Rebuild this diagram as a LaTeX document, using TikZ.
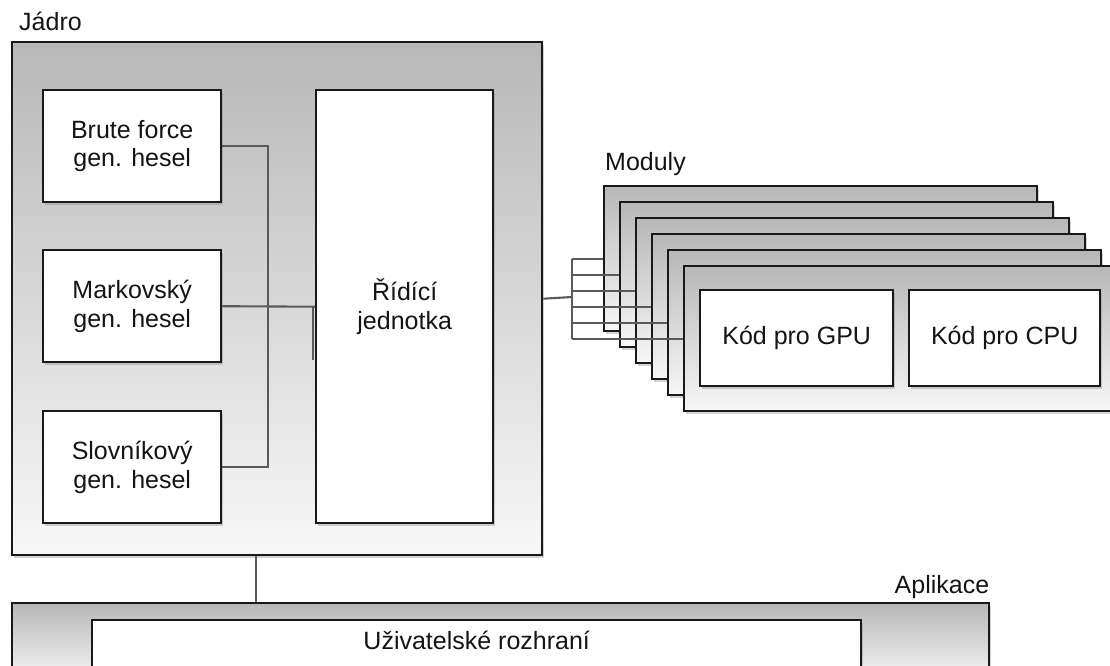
\documentclass[tikz,border=0pt]{standalone}
\usepackage{fontspec}
\setmainfont{Liberation Sans}
\usetikzlibrary{shadows}

\tikzset{
  box/.style={draw=black!90, line width=2.4pt, fill=white, inner sep=0pt, anchor=north west,
    drop shadow={shadow xshift=2pt, shadow yshift=-2.5pt, fill=black!50, opacity=0.35}},
  panel/.style={box, top color=black!28, bottom color=black!3},
  spoj/.style={draw=black!65, line width=2.1pt},
  popis/.style={font=\fontsize{25}{28.5}\selectfont, text=black!92}
}

\begin{document}
\begin{tikzpicture}[x=1pt, y=-1pt, popis]
    \useasboundingbox (0,0) rectangle (1110,666);
    \clip (0,0) rectangle (1110,666);

    % Jadro
    \node[panel, minimum width=530, minimum height=513] (jadro) at (11,41) {};
    \node[anchor=base west, inner sep=0pt] (jadroPopis) at ([shift={(8,-10)}]jadro.north west) {Jádro};

    % generatory hesel a ridici jednotka
    \node[box, minimum width=178, minimum height=112, align=center] (brute) at (42,89) {Brute force\\gen. hesel};
    \node[box, minimum width=178, minimum height=112, align=center] (markov) at (42,249) {Markovský\\gen. hesel};
    \node[box, minimum width=178, minimum height=112, align=center] (slovnik) at (42,410) {Slovníkový\\gen. hesel};
    \node[box, minimum width=177, minimum height=433, align=center] (ridici) at (315,89) {Řídící\\jednotka};

    \coordinate (uzel) at (268,305);
    \draw[spoj] (brute.east) -| (uzel) |- (slovnik.east);
    \draw[spoj] (markov.east) -- (ridici.west);
    \draw[spoj] ([xshift=-2pt]ridici.west) -- ++(0,53);

    % Moduly (naskladane za sebou)
    \foreach \i in {0,...,5}
        \node[panel, minimum width=433, minimum height=145] (mod\i) at ({603+16*\i},{185+16*\i}) {};
    \node[anchor=base west, inner sep=0pt] (moduly) at ([shift={(2,-15)}]mod0.north west) {Moduly};
    \node[box, minimum width=193, minimum height=96] (gpu) at (699,289) {Kód pro GPU};
    \node[box, minimum width=191, minimum height=96] (cpu) at (908,289) {Kód pro CPU};

    % sbernice mezi jadrem a moduly
    \coordinate (sbernice) at (572,297);
    \draw[spoj] (jadro.east) -- (sbernice);
    \draw[spoj] (sbernice |- mod0.west) -- (sbernice |- mod5.west);
    \foreach \i in {0,...,5}
        \draw[spoj] (sbernice |- mod\i.west) -- (mod\i.west);

    % Aplikace
    \node[panel, minimum width=977, minimum height=80] (aplikace) at (11,602) {};
    \node[anchor=base east, inner sep=0pt] (aplikacePopis) at ([shift={(-1,-9)}]aplikace.north east) {Aplikace};
    \node[box, minimum width=769, minimum height=70] (rozhrani) at (91,619) {};
    \node[anchor=base, inner sep=0pt] (rozhraniText) at ([shift={(0,30)}]rozhrani.north) {Uživatelské rozhraní};

    \coordinate (svislice) at (256,0);
    \draw[spoj] (jadro.south -| svislice) -- (aplikace.north -| svislice);
\end{tikzpicture}
\end{document}
